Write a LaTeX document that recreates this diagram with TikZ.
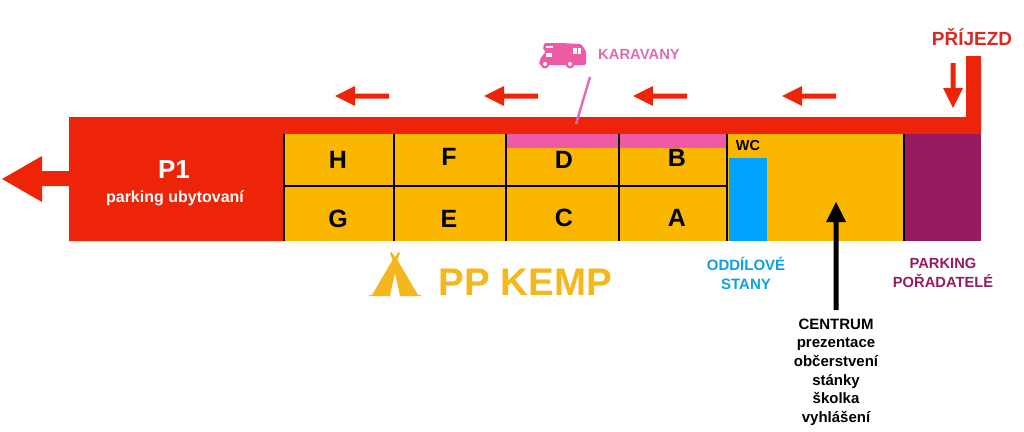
\documentclass[tikz,border=0pt]{standalone}
\usepackage{fontspec}
\setmainfont{Liberation Sans}
\definecolor{rd}{HTML}{EE2409}
\definecolor{txtrd}{HTML}{D92B20}
\definecolor{yl}{HTML}{FBB700}
\definecolor{ylt}{HTML}{F5B71E}
\definecolor{pk}{HTML}{EE5AA6}
\definecolor{pkt}{HTML}{DE6DAE}
\definecolor{bl}{HTML}{00A2FF}
\definecolor{blt}{HTML}{0F9FE0}
\definecolor{pu}{HTML}{981A5E}
\begin{document}
\begin{tikzpicture}[x=1pt,y=-1pt,
  lab/.style={font=\bfseries,inner sep=0pt,align=center},
  cell/.style={lab,font=\fontsize{25}{28}\bfseries,text=black},
  flow/.style={fill=rd,draw=none},
  sep/.style={draw=black,line width=2.5pt}]
\useasboundingbox (0,0) rectangle (1024,431);
% areas
\fill[rd] (69,117) -- (966,117) -- (966,56) -- (981,56) -- (981,134) -- (284,134) -- (284,241) -- (69,241) -- cycle;
\fill[yl] (284,134) rectangle (905,241);
\fill[pu] (905,134) rectangle (981,241);
\fill[pk] (506,134) rectangle (727,148);
\fill[bl] (729,158) rectangle (767,241);
% separators
\foreach \x in {284,394,506,619,727,904} \draw[sep] (\x,134) -- (\x,241);
\draw[sep] (284,186) -- (727,186);
% cell labels
\node[cell] (h) at (338,160) {H};
\node[cell] (f) at (449,157) {F};
\node[cell] (d) at (564,160) {D};
\node[cell] (b) at (677,158) {B};
\node[cell] (g) at (338,219) {G};
\node[cell] (e) at (449,219) {E};
\node[cell] (c) at (564,218) {C};
\node[cell] (a) at (677,218) {A};
\node[lab,font=\fontsize{14.5}{16}\bfseries] (wc) at (748,146) {WC};
% P1
\node[lab,text=white,font=\fontsize{26}{28}\bfseries] (p1) at (174,170) {P1};
\node[lab,text=white,font=\fontsize{16}{18}\bfseries] (pu) at (175,198) {parking ubytovaní};
% arrows
\fill[flow] (69,171) -- (42,171) -- (42,156) -- (2,179) -- (42,202) -- (42,186) -- (69,186) -- cycle;
\foreach \x in {335,484,633,782} {
  \fill[flow] (\x,96) -- (\x+20,86) -- (\x+20,93.5) -- (\x+54,93.5) -- (\x+54,98.5) -- (\x+20,98.5) -- (\x+20,106) -- cycle;
}
\fill[flow] (953,108) -- (943,88) -- (950.5,88) -- (950.5,63) -- (955.5,63) -- (955.5,88) -- (963,88) -- cycle;
\node[lab,text=txtrd,font=\fontsize{19}{22}\bfseries] (prijezd) at (972,37) {PŘÍJEZD};
% caravan
\fill[pk,rounded corners=1.5pt] (539,65) -- (540,59) -- (546,51) -- (543,50) -- (544,43) -- (560,43) -- (581,44) -- (586,51) -- (586,65) -- cycle;
\fill[white] (546,53) rectangle (552,57);
\fill[white] (546,45.5) rectangle (553,48);
\fill[white] (573,48) rectangle (576.5,54);
\fill[white] (577.5,48) rectangle (581,54);
\fill[pk] (545,64) circle (4.5);
\fill[white] (545,64) circle (2);
\fill[pk] (570,64) circle (4.5);
\fill[white] (570,64) circle (2);
\node[lab,text=pkt,font=\fontsize{14.8}{16}\bfseries] (kar) at (639,54) {KARAVANY};
\coordinate (k1) at (590,77);
\coordinate (k2) at (576,124);
\draw[pkt,line width=2.4pt] (k1) -- (k2);
% bottom labels
\fill[ylt] (369,296) -- (369,295) -- (372,295) -- (392.5,260) -- (390,253) -- (391.5,252) -- (395,257) -- (398.5,252) -- (400,253) -- (397.5,260) -- (418,295) -- (421,295) -- (421,296) -- (400,296) -- (395,273) -- (390,296) -- cycle;
\node[lab,text=ylt,font=\fontsize{38.5}{40}\bfseries] (kemp) at (525.5,282) {PP KEMP};
\node[lab,text=blt,font=\fontsize{15}{19}\bfseries] (odd) at (746,273) {ODDÍLOVÉ\\STANY};
\node[lab,text=pu,font=\fontsize{14.7}{19}\bfseries] (par) at (943,273) {PARKING\\POŘADATELÉ};
\node[lab,font=\fontsize{15}{18.7}\bfseries,anchor=north] (cen) at (836,318.5) {CENTRUM\\prezentace\\občerstvení\\stánky\\školka\\vyhlášení};
\coordinate (atip) at (836,202);
\fill[black] (atip) -- (846,222) -- (838.5,222) -- (838.5,310) -- (833.5,310) -- (833.5,222) -- (826,222) -- cycle;
\end{tikzpicture}
\end{document}
